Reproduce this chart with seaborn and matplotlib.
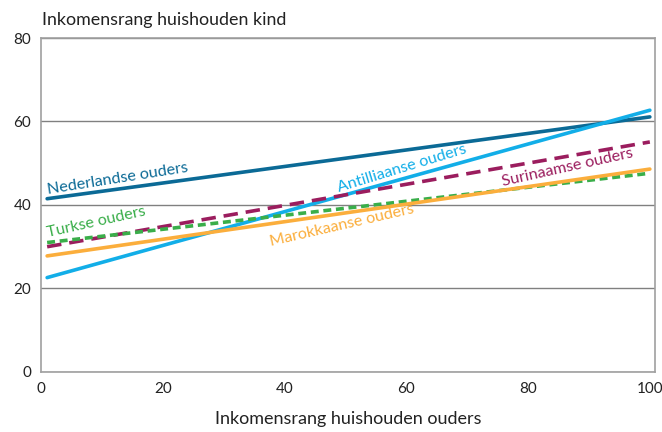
import numpy as np
import pandas as pd
import matplotlib
matplotlib.use("Agg")
import matplotlib.pyplot as plt
import seaborn as sns

# inkomensrang ouders (begin- en eindpunt van de lijnen)
rang_ouders = [1, 100]

nederlandse = [41.5, 61.1]
antilliaanse = [22.6, 62.7]
surinaamse = [30.0, 55.1]
turkse = [31.0, 47.6]
marokkaanse = [27.8, 48.6]

groepen = ["Nederlandse ouders", "Antilliaanse ouders", "Surinaamse ouders",
           "Turkse ouders", "Marokkaanse ouders"]
kleuren = ["#0b6a96", "#12aee8", "#9b1d5e", "#3aae4a", "#fbae3c"]

df = pd.DataFrame({
    "ouders": rang_ouders * 5,
    "kind": nederlandse + antilliaanse + surinaamse + turkse + marokkaanse,
    "groep": np.repeat(groepen, 2),
})

sns.set_style("white")
plt.rcParams["font.family"] = ["Lato", "DejaVu Sans"]

fig = plt.figure(figsize=(6.62, 4.32), dpi=100)
ax = fig.add_axes([0.062, 0.139, 0.927, 0.773])

streep = {
    "Nederlandse ouders": "",
    "Antilliaanse ouders": "",
    "Surinaamse ouders": (4, 2.2),
    "Turkse ouders": (2.2, 1.3),
    "Marokkaanse ouders": "",
}
sns.lineplot(data=df, x="ouders", y="kind", hue="groep", style="groep",
             hue_order=groepen, palette=kleuren, dashes=streep,
             linewidth=2.6, legend=False, ax=ax)

ax.set_xlim(0, 100.8)
ax.set_ylim(0, 80)
ax.set_xticks([0, 20, 40, 60, 80, 100])
ax.set_yticks([0, 20, 40, 60, 80])
ax.yaxis.grid(True, color="#808080", linewidth=1)
ax.set_axisbelow(True)
for s in ax.spines.values():
    s.set_color("#a0a0a0")
    s.set_linewidth(1.2)
ax.tick_params(axis="both", direction="out", length=5, width=1,
               color="#8c8c8c", labelsize=11, labelcolor="#222222", pad=2)
ax.set_xlabel("Inkomensrang huishouden ouders", fontsize=13,
              color="#222222", labelpad=11)
ax.set_ylabel("")
fig.text(0.064, 0.953, "Inkomensrang huishouden kind", fontsize=12.9,
         color="#222222", va="center", ha="left")

# labels bij de lijnen
labels = [
    ("Nederlandse ouders", 1.2, 42.6, 9, kleuren[0]),
    ("Antilliaanse ouders", 49.0, 43.2, 17, kleuren[1]),
    ("Surinaamse ouders", 75.8, 44.6, 12.5, kleuren[2]),
    ("Turkse ouders", 1.2, 32.4, 12.5, kleuren[3]),
    ("Marokkaanse ouders", 37.8, 30.2, 13, kleuren[4]),
]
for tekst, x, y, rot, kl in labels:
    ax.text(x, y, tekst, color=kl, fontsize=11.6, rotation=rot,
            rotation_mode="anchor", ha="left", va="baseline")

fig.savefig("out.png", dpi=100)
